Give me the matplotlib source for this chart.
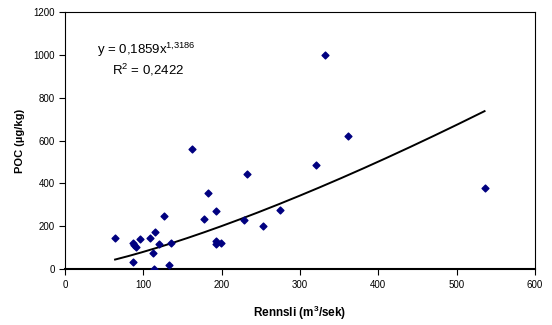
import numpy as np
import matplotlib.pyplot as plt

plt.rcParams['font.family'] = ['Liberation Sans', 'DejaVu Sans']
plt.rcParams['mathtext.fontset'] = 'custom'
plt.rcParams['mathtext.rm'] = 'Liberation Sans'
plt.rcParams['mathtext.bf'] = 'Liberation Sans:bold'
plt.rcParams['mathtext.default'] = 'regular'

# Rennsli (m3/sek) and POC (ug/kg)
rennsli = [63.8, 86.4, 88, 90, 87.2, 95.7, 108.5, 114.9, 112.3, 113.6,
           119.6, 126.8, 132.8, 134.9, 162.6, 177, 183, 193.2, 192.3, 193.2,
           199.6, 228.5, 232.8, 253.2, 274.5, 320, 331.9, 361.7, 535.7]
poc = [146, 124, 113, 102, 33, 141, 146, 172, 76, 0,
       115, 250, 19, 120, 559, 233, 354, 272, 130, 115,
       124, 231, 446, 202, 276, 485, 998, 620, 380]

# power trendline y = a * x^b
a, b = 0.1859, 1.3186

fig = plt.figure(figsize=(5.52, 3.25), dpi=100)
ax = fig.add_axes([0.118, 0.172, 0.851, 0.791])

ax.scatter(rennsli, poc, marker='D', s=12, color='#000080', zorder=3)

xs = np.linspace(min(rennsli), max(rennsli), 200)
ax.plot(xs, a * xs ** b, color='black', lw=1.4)

ax.set_xlim(0, 600)
ax.set_ylim(0, 1200)
ax.set_xticks(range(0, 601, 100))
ax.set_yticks(range(0, 1201, 200))
ax.tick_params(direction='out', length=4, width=0.8, labelsize=7)
for s in ax.spines.values():
    s.set_linewidth(0.8)
ax.spines['bottom'].set_linewidth(1.5)

ax.set_xlabel('Rennsli (m$\\mathbf{^{3}}$/sek)', fontsize=8.5, fontweight='bold', labelpad=10)
ax.set_ylabel('POC (µg/kg)', fontsize=8, fontweight='bold', labelpad=6)

ax.text(41, 1025, 'y = 0,1859x$^{1{,}3186}$', fontsize=9.5, va='center', ha='left')
ax.text(106, 931, 'R$^{2}$ = 0,2422', fontsize=9.5, va='center', ha='center')

fig.savefig('out.png', dpi=100)
